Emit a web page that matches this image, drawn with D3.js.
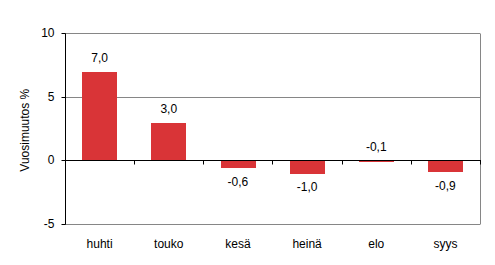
<!DOCTYPE html>
<html>
<head>
<meta charset="utf-8">
<script src="https://cdn.jsdelivr.net/npm/d3@7"></script>
<style>
  body { margin: 0; background: #fff; }
  svg { display: block; font-family: Arial, "Liberation Sans", sans-serif; }
</style>
</head>
<body>
<svg id="chart" width="495" height="265"></svg>
<script>
const categories = ["huhti", "touko", "kesä", "heinä", "elo", "syys"];
const values = [7.0, 3.0, -0.6, -1.0, -0.1, -0.9];
const yTicks = [-5, 0, 5, 10];
const yTitle = "Vuosimuutos %";

const svg = d3.select("#chart"),
  plotLeft = 65,
  plotRight = 480,
  plotTop = 33.5,
  plotBottom = 224.5,
  barColor = "#d93437",
  gridColor = "#868686";

const x = d3.scaleBand().domain(categories).range([plotLeft, plotRight]).paddingInner(0.5).paddingOuter(0.25);
const y = d3.scaleLinear().domain([-5, 10]).range([plotBottom, plotTop]);
const fmt = (v) => v.toFixed(1).replace(".", ",");
const row = (v) => Math.floor(y(v)) + 0.5;
const zeroRow = Math.floor(y(0));

// gridlines + frame
svg.append("g")
  .selectAll("line")
  .data(yTicks.filter((t) => t !== 0))
  .enter()
  .append("line")
  .attr("x1", plotLeft)
  .attr("x2", plotRight)
  .attr("y1", row)
  .attr("y2", row)
  .attr("stroke", gridColor);

svg.append("line")
  .attr("x1", plotRight + 0.5).attr("x2", plotRight + 0.5)
  .attr("y1", row(10)).attr("y2", row(-5))
  .attr("stroke", gridColor);

// bars
svg.append("g")
  .selectAll("rect")
  .data(values)
  .enter()
  .append("rect")
  .attr("x", (d, i) => Math.round(x(categories[i])))
  .attr("width", Math.round(x.bandwidth()))
  .attr("y", (d) => (d >= 0 ? Math.round(y(d)) : zeroRow + 1))
  .attr("height", (d) =>
    d >= 0 ? zeroRow - Math.round(y(d)) : Math.max(1, Math.round(y(d)) - zeroRow - 1)
  )
  .attr("fill", barColor);

// value labels
svg.append("g")
  .selectAll("text")
  .data(values)
  .enter()
  .append("text")
  .attr("x", (d, i) => x(categories[i]) + x.bandwidth() / 2)
  .attr("y", (d) => (d > -0.5 ? y(Math.max(0, d)) - 9.5 : y(d) + 17.5))
  .attr("text-anchor", "middle")
  .attr("font-size", "12px")
  .attr("fill", "#000")
  .text(fmt);

// y axis
const yAxis = svg.append("g")
  .attr("transform", `translate(${plotLeft + 0.5},0)`)
  .call(d3.axisLeft(y).tickValues(yTicks).tickSize(4).tickPadding(7).tickFormat((d) => String(d)));
yAxis.selectAll("path, line").attr("stroke", "#000");
yAxis.selectAll(".tick").attr("transform", (d) => `translate(0,${row(d)})`);
yAxis.selectAll("text").attr("font-size", "12px").attr("font-family", "Arial, 'Liberation Sans', sans-serif").attr("fill", "#000");
yAxis.select(".domain").attr("d", `M0,${row(10)}V${row(-5)}`);

// zero line with category ticks
const xAxis = svg.append("g")
  .attr("transform", `translate(0,${zeroRow + 0.5})`);
xAxis.append("line").attr("x1", plotLeft).attr("x2", plotRight + 1).attr("stroke", "#000");
const bounds = categories.map((c) => x(c) - (x.step() * x.paddingInner()) / 2).concat([plotRight]);
xAxis.selectAll(".tk")
  .data(bounds.slice(1))
  .enter()
  .append("line")
  .attr("x1", (d) => Math.round(d) + 0.5)
  .attr("x2", (d) => Math.round(d) + 0.5)
  .attr("y1", 0)
  .attr("y2", 4)
  .attr("stroke", "#000");

// category labels
svg.append("g")
  .selectAll("text")
  .data(categories)
  .enter()
  .append("text")
  .attr("x", (d) => x(d) + x.bandwidth() / 2)
  .attr("y", 248)
  .attr("text-anchor", "middle")
  .attr("font-size", "12px")
  .attr("fill", "#000")
  .text((d) => d);

// y title
svg.append("text")
  .attr("transform", `translate(29,${(plotTop + y(0)) / 2 + 33}) rotate(-90)`)
  .attr("text-anchor", "middle")
  .attr("font-size", "12px")
  .attr("fill", "#000")
  .text(yTitle);
</script>
</body>
</html>
